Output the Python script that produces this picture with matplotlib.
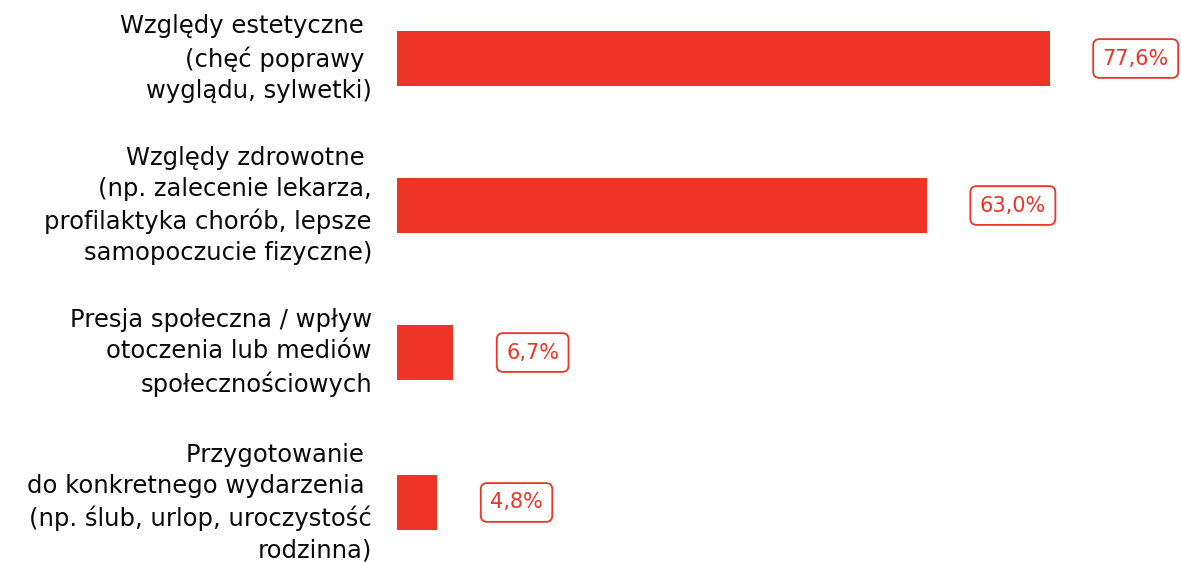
import matplotlib.pyplot as plt

categories = [
    "Względy estetyczne \n(chęć poprawy \nwyglądu, sylwetki)",
    "Względy zdrowotne \n(np. zalecenie lekarza,\nprofilaktyka chorób, lepsze\nsamopoczucie fizyczne)",
    "Presja społeczna / wpływ\notoczenia lub mediów\nspołecznościowych",
    "Przygotowanie \ndo konkretnego wydarzenia \n(np. ślub, urlop, uroczystość\nrodzinna)",
]
values = [77.6, 63.0, 6.7, 4.8]
value_labels = ["77,6%", "63,0%", "6,7%", "4,8%"]
positions = [0, 1, 2, 3.02]

red = "#EE3327"
plt.rcParams["font.family"] = ["DejaVu Sans"]

fig = plt.figure(figsize=(11.81, 5.62), dpi=100)
ax = fig.add_axes([397 / 1181, 0, 1 - 397 / 1181, 1])

ax.barh(positions, values, height=0.375, color=red)

for y, v, lab in zip(positions, values, value_labels):
    ax.annotate(lab, xy=(v, y), xytext=(38, 0), textcoords="offset points",
                ha="left", va="center", fontsize=15, color=red,
                bbox=dict(boxstyle="round,pad=0.45,rounding_size=0.3",
                          fc="white", ec=red, lw=1.3))

for y, cat in zip(positions, categories):
    ax.annotate(cat, xy=(0, y), xytext=(-18, 0), textcoords="offset points",
                ha="right", va="center", fontsize=17.5, color="#0a0a0a",
                multialignment="right", linespacing=1.37)

ax.set_xlim(0, 93.2)
ax.set_ylim(3.425, -0.398)
ax.axis("off")

fig.savefig("out.png", dpi=100)
